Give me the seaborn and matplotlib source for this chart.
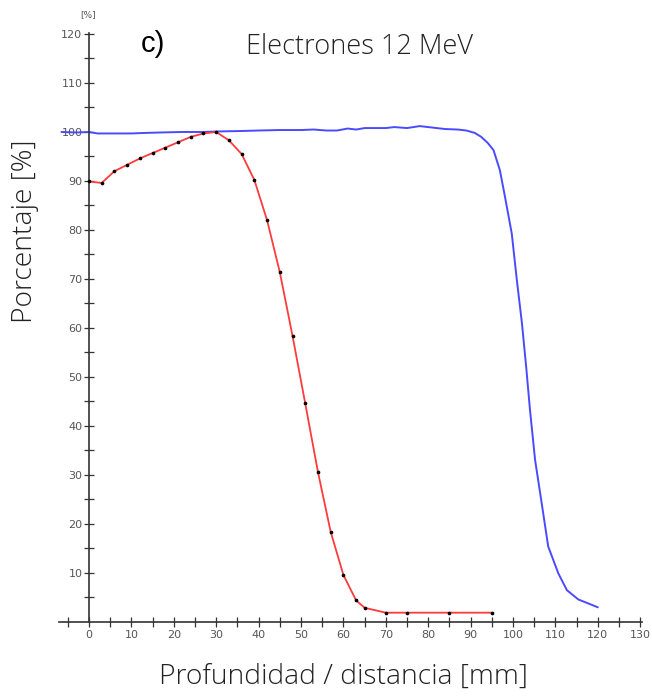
import matplotlib
matplotlib.use("Agg")
import matplotlib.pyplot as plt
from matplotlib.ticker import FixedLocator
import seaborn as sns
import pandas as pd

# Measured depth-dose points (red, with markers)
red_depth = [0, 3, 6, 9, 12, 15, 18, 21, 24, 27, 30, 33, 36, 39, 42, 45, 48,
             51, 54, 57, 60, 63, 65, 70, 75, 85, 95]
red_dose = [89.9, 89.6, 92.0, 93.3, 94.6, 95.7, 96.8, 97.9, 99.0, 99.7, 100.0,
            98.3, 95.5, 90.2, 82.0, 71.4, 58.4, 44.6, 30.6, 18.4, 9.6, 4.4,
            2.9, 1.9, 1.9, 1.9, 1.9]

# Profile along distance (blue)
blue_dist = [-6.5, -3, 0, 2, 5, 10, 13, 17, 22, 27, 30, 36, 40, 45, 50, 53,
             56, 58.5, 61, 63, 65, 70, 72, 75, 78, 81, 84, 87, 89, 91, 92.5,
             94, 95.4, 96.9, 98.1, 99.7, 100.9, 102.1, 103.1, 104.0, 105.2,
             106.4, 108.3, 110.7, 112.7, 115.4, 120]
blue_val = [100.0, 99.9, 100.0, 99.7, 99.7, 99.7, 99.8, 99.9, 100.0, 100.0,
            100.1, 100.2, 100.3, 100.4, 100.4, 100.5, 100.3, 100.3, 100.7,
            100.5, 100.8, 100.8, 101.0, 100.8, 101.2, 100.9, 100.6, 100.5,
            100.3, 99.8, 99.0, 97.8, 96.3, 92.2, 86.8, 79.3, 69.8, 61.0, 52.1,
            43.3, 33.1, 26.3, 15.4, 9.9, 6.5, 4.6, 3.0]

x_major = list(range(0, 131, 10))
y_major = list(range(10, 121, 10))

red_df = pd.DataFrame({"depth": red_depth, "dose": red_dose})
blue_df = pd.DataFrame({"dist": blue_dist, "val": blue_val})

sns.set_style("white")
plt.rcParams["font.family"] = ["DejaVu Sans"]

W, H = 652, 696
fig = plt.figure(figsize=(W / 100, H / 100), dpi=100)
ax = fig.add_axes([59.3 / W, 74 / H, 582.2 / W, 589 / H])

sns.lineplot(data=blue_df, x="dist", y="val", ax=ax, color="#4a4aff",
             linewidth=1.4, sort=False, estimator=None)
sns.lineplot(data=red_df, x="depth", y="dose", ax=ax, color="#ff3b3b",
             linewidth=1.3, sort=False, estimator=None)
sns.scatterplot(data=red_df, x="depth", y="dose", ax=ax, color="black",
                s=7, linewidth=0, zorder=5)

ax.set_xlim(-7, 130.3)
ax.set_ylim(0, 120.2)

for side in ("top", "right"):
    ax.spines[side].set_visible(False)
ax.spines["left"].set_position(("data", 0))
ax.spines["bottom"].set_position(("data", 0))
for side in ("left", "bottom"):
    ax.spines[side].set_color("#333333")
    ax.spines[side].set_linewidth(1.2)

ax.xaxis.set_major_locator(FixedLocator(x_major))
ax.xaxis.set_minor_locator(FixedLocator([v for v in range(-5, 131, 10)]))
ax.yaxis.set_major_locator(FixedLocator(y_major))
ax.yaxis.set_minor_locator(FixedLocator([v for v in range(5, 120, 10)]))
ax.set_xticklabels([str(v) for v in x_major])
ax.set_yticklabels([str(v) for v in y_major])

ax.tick_params(which="both", bottom=True, left=True, top=False, right=False,
               direction="inout", length=6.5, width=0.9, color="#333333",
               labelsize=8, labelcolor="#555555", pad=1.5)
ax.tick_params(axis="x", which="major", pad=2.5)
ax.set_xlabel("")
ax.set_ylabel("")
ax.grid(False)

# Texts
fig.text(88 / W, 1 - 15 / H, "[%]", fontsize=6.5, color="#555555",
         ha="center", va="center")
fig.text(153 / W, 1 - 44 / H, "c)", fontsize=21, color="black",
         ha="center", va="center", family=["Liberation Sans", "DejaVu Sans"])
fig.text(360 / W, 1 - 47 / H, "Electrones 12 MeV", fontsize=19.5,
         color="#222222", ha="center", va="center",
         family=["Open Sans", "DejaVu Sans"], fontweight="light")
fig.text(25 / W, 1 - 231 / H, "Porcentaje [%]", fontsize=20.3,
         color="#222222", ha="center", va="center", rotation=90,
         family=["Open Sans", "DejaVu Sans"], fontweight="light")
fig.text(343 / W, 1 - 677 / H, "Profundidad / distancia [mm]", fontsize=20.3,
         color="#222222", ha="center", va="center",
         family=["Open Sans", "DejaVu Sans"], fontweight="light")

fig.savefig("out.png", dpi=100, facecolor="white")
